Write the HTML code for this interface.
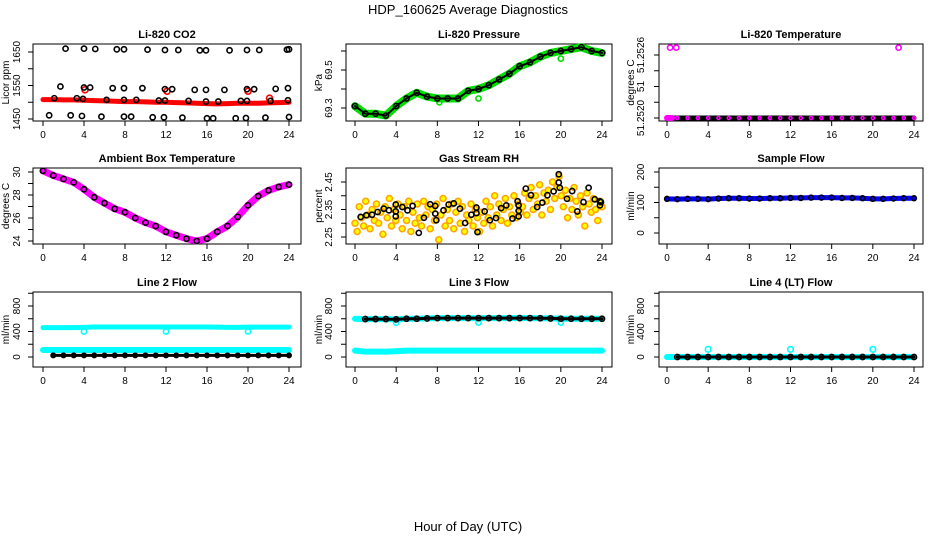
<!DOCTYPE html>
<html><head><meta charset="utf-8"><style>
body{margin:0;background:#fff;}
svg{display:block;font-family:"Liberation Sans",sans-serif;}
</style></head><body>
<svg id="c" width="936" height="540" viewBox="0 0 936 540">
<text x="468" y="14" text-anchor="middle" font-size="13">HDP_160625  Average Diagnostics</text>
<text x="468" y="531" text-anchor="middle" font-size="13">Hour of Day (UTC)</text>
</svg>
<script>
const hoursHourly=[0,1,2,3,4,5,6,7,8,9,10,11,12,13,14,15,16,17,18,19,20,21,22,23,24];
const xTicks=[0,4,8,12,16,20,24];
// CO2
const co2Red=[1508,1508,1507,1507,1506,1505,1504,1503,1502,1502,1501,1500,1500,1499,1498,1497,1496,1495,1496,1497,1497,1497,1498,1499,1500];
const co2BlackHours=[2.2,4.0,5.1,7.2,7.9,10.2,11.9,13.2,15.3,15.9,18.2,19.9,21.1,23.8,24.0,1.7,4.0,4.6,6.8,7.9,9.7,11.9,12.6,14.8,15.9,17.7,19.9,20.6,22.7,23.9,1.1,3.3,3.9,6.2,7.9,9.1,11.3,11.9,14.2,15.9,17.1,19.3,19.9,22.2,23.9,0.6,2.7,3.8,5.7,7.9,8.6,10.7,11.8,13.6,16.0,16.6,18.8,19.8,21.7,24.0];
const co2BlackVals=[1660,1660,1659,1658,1658,1657,1656,1656,1655,1655,1655,1656,1656,1657,1658,1547,1544,1544,1542,1542,1542,1539,1539,1537,1537,1537,1539,1539,1540,1542,1512,1512,1510,1507,1507,1507,1505,1505,1504,1502,1502,1504,1504,1504,1506,1461,1461,1459,1457,1457,1457,1455,1455,1454,1452,1452,1452,1453,1454,1456];
const co2RedOutHours=[4.1,12.1,20.0,22.1];
const co2RedOutVals=[1537,1533,1533,1512];
// Pressure
const pressGreen=[69.31,69.27,69.27,69.26,69.31,69.35,69.38,69.36,69.35,69.35,69.35,69.39,69.40,69.42,69.45,69.48,69.52,69.54,69.57,69.59,69.60,69.61,69.62,69.60,69.59];
const pressOutHours=[12,20,8.2];
const pressOutVals=[69.35,69.56,69.33];
// Li-820 temperature
const tempLi=[51.2520,51.2520,51.2520,51.2520,51.2520,51.2520,51.2520,51.2520,51.2520,51.2520,51.2520,51.2520,51.2520,51.2520,51.2520,51.2520,51.2520,51.2520,51.2520,51.2520,51.2520,51.2520,51.2520,51.2520,51.2520];
const tempLiOutHours=[0.3,0.9,22.5];
const tempLiOutVals=[51.25267,51.25267,51.25267];
// Ambient
const ambient=[30.1,29.7,29.4,29.1,28.5,27.8,27.3,26.8,26.5,26.0,25.6,25.3,24.8,24.5,24.2,24.0,24.2,24.8,25.3,26.1,27.1,27.9,28.4,28.7,28.9];
// RH
const rhOrange=[2.30,2.27,2.36,2.32,2.29,2.38,2.33,2.28,2.35,2.31,2.37,2.30,2.34,2.26,2.36,2.32,2.39,2.29,2.35,2.31,2.37,
2.33,2.28,2.36,2.31,2.38,2.27,2.34,2.30,2.37,2.32,2.29,2.38,2.33,2.36,2.28,2.35,2.31,2.37,2.24,
2.33,2.39,2.29,2.35,2.31,2.37,2.28,2.34,2.38,2.30,2.36,2.27,2.33,2.31,2.37,2.29,2.35,2.32,2.27,
2.34,2.30,2.38,2.32,2.36,2.29,2.40,2.33,2.37,2.31,2.35,2.39,2.30,2.36,2.33,2.40,2.32,2.37,2.34,
2.36,2.41,2.33,2.39,2.43,2.35,2.40,2.37,2.44,2.33,2.41,2.38,2.42,2.35,2.45,2.39,2.43,2.47,2.40,
2.36,2.42,2.32,2.39,2.35,2.43,2.38,2.33,2.40,2.36,2.29,2.41,2.37,2.34,2.39,2.35,2.31,2.38,2.36];
const rhBlackHours=[0.55,1.1,1.65,2.2,2.8,3.3,3.96,3.96,3.96,4.6,5.1,5.6,6.2,6.7,7.3,7.8,7.8,7.9,8.6,9.1,9.6,10.2,10.7,11.3,11.8,11.8,11.9,12.6,13.1,13.7,14.2,14.7,15.3,15.8,15.9,15.9,15.9,16.6,17.1,17.7,18.2,18.7,19.3,19.8,19.8,19.9,20.6,21.1,21.6,22.2,22.7,23.3,23.8,23.8,23.9];
const rhBlackVals=[2.323,2.329,2.331,2.341,2.353,2.347,2.368,2.325,2.343,2.359,2.347,2.363,2.265,2.320,2.369,2.363,2.335,2.311,2.347,2.368,2.372,2.353,2.301,2.331,2.357,2.337,2.268,2.343,2.311,2.319,2.355,2.365,2.317,2.380,2.365,2.345,2.325,2.426,2.402,2.359,2.375,2.402,2.416,2.478,2.448,2.429,2.389,2.417,2.343,2.377,2.429,2.387,2.380,2.365,2.377];
// Sample flow
const sampleBlue=[112,111,112,112,111,113,114,114,113,113,114,114,115,115,116,116,116,115,115,114,112,112,113,114,114];
// Line flows
const line2Upper=[460,460,460,460,465,470,470,470,470,470,470,470,470,470,470,470,470,468,465,465,468,468,468,468,468];
const line2Lower=[110,110,110,110,110,110,110,110,110,110,110,110,110,110,110,110,110,110,110,110,110,110,110,110,110];
const line2Black=[25,25,25,25,25,25,25,25,25,25,25,25,25,25,25,25,25,25,25,25,25,25,25,25,25];
const line3Upper=[600,595,595,595,590,600,600,605,610,610,610,610,610,610,610,610,610,610,608,605,600,600,600,600,600];
const line3Lower=[100,85,85,85,90,100,100,100,100,100,100,100,100,100,100,100,100,100,100,100,100,100,100,100,100];
const line4Flow=[0,0,0,0,0,0,0,0,0,0,0,0,0,0,0,0,0,0,0,0,0,0,0,0,0];
const dipHours=[4,12,20];
const line2Dips=[400,400,400];
const line3Dips=[540,540,540];
const line4Out=[120,120,120];

const svg=document.getElementById('c');
const NS='http://www.w3.org/2000/svg';
function mk(tag,attrs,parent){const e=document.createElementNS(NS,tag);for(const k in attrs)e.setAttribute(k,attrs[k]);(parent||svg).appendChild(e);return e;}
const cols=[{l:33,r:301,x0:43,x24:289,ylx:9,ytx:20},{l:346,r:612,x0:355,x24:602,ylx:322,ytx:332},{l:659,r:923,x0:667,x24:914,ylx:634,ytx:644}];
const rows=[{t:44,b:121},{t:168,b:244},{t:292,b:367}];
function panel(ci,ri,o){
  const c=cols[ci],r=rows[ri];
  const g=mk('g',{});
  
  
  const X=h=>c.x0+(c.x24-c.x0)*h/24;
  const Y=v=>o.py0+(o.py1-o.py0)*(v-o.v0)/(o.v1-o.v0);
  const t=mk('text',{x:(c.l+c.r)/2,y:r.t-6,'text-anchor':'middle','font-size':11,'font-weight':'bold'},g);t.textContent=o.title;
  
  
  const bx=mk('rect',{x:c.l,y:r.t,width:c.r-c.l,height:r.b-r.t,fill:'none',stroke:'#000','stroke-width':1},g);
  
  
  // x axis
  mk('line',{x1:X(0),x2:X(24),y1:r.b,y2:r.b,stroke:'#000'},g);
  xTicks.forEach(h=>{mk('line',{x1:X(h),x2:X(h),y1:r.b,y2:r.b+5,stroke:'#000'},g);
    const tl=mk('text',{x:X(h),y:r.b+17,'text-anchor':'middle','font-size':10},g);tl.textContent=h;
    
    });
  // y axis
  const ys=o.ticks.map(Y);
  mk('line',{x1:c.l,x2:c.l,y1:Math.min(...ys),y2:Math.max(...ys),stroke:'#000'},g);
  o.ticks.forEach((v,i)=>{const y=Y(v);mk('line',{x1:c.l-5,x2:c.l,y1:y,y2:y,stroke:'#000'},g);
    if(o.labels[i]){const tl=mk('text',{x:c.ytx,y:y,'text-anchor':'middle','font-size':10,transform:`rotate(-90 ${c.ytx} ${y})`},g);tl.textContent=o.labels[i];
    
    }});
  const yl=mk('text',{x:c.ylx,y:(r.t+r.b)/2,'text-anchor':'middle','font-size':10,transform:`rotate(-90 ${c.ylx} ${(r.t+r.b)/2})`},g);yl.textContent=o.ylab;
  
  
  return {g,X,Y};
}
function band(p,hs,vs,color,w,name){const pl=mk('polyline',{points:hs.map((h,i)=>p.X(h)+','+p.Y(vs[i])).join(' '),fill:'none',stroke:color,'stroke-width':w,'stroke-linejoin':'round','stroke-linecap':'round'},p.g);
  
  }
function pts(p,hs,vs,color,rad,name,fill){hs.forEach((h,i)=>{const ci=mk('circle',{cx:p.X(h),cy:p.Y(vs[i]),r:rad||2.6,fill:fill||'none',stroke:color,'stroke-width':1.6},p.g);
  
  });}

let p;
p=panel(0,0,{name:'co2-panel',title:'Li-820 CO2',ylab:'Licor ppm',v0:1450,py0:119,v1:1650,py1:52,ticks:[1450,1500,1550,1600,1650],labels:['1450','','1550','','1650']});
band(p,hoursHourly,co2Red,'#f00',5,'co2-red-series');
pts(p,co2RedOutHours,co2RedOutVals,'#f00',3,'co2-red-point');
pts(p,co2BlackHours,co2BlackVals,'#000',2.6,'co2-black-point');

p=panel(1,0,{name:'pressure-panel',title:'Li-820 Pressure',ylab:'kPa',v0:69.3,py0:108,v1:69.5,py1:70,ticks:[69.3,69.4,69.5,69.6],labels:['69.3','','69.5','']});
band(p,hoursHourly,pressGreen,'#0d0',8,'pressure-green-series');
pts(p,pressOutHours,pressOutVals,'#0d0',2.6,'pressure-green-point');
band(p,hoursHourly,pressGreen,'#000',2,'pressure-black-series');
pts(p,hoursHourly,pressGreen,'#000',2.6,'pressure-black-point');

p=panel(2,0,{name:'li820-temp-panel',title:'Li-820 Temperature',ylab:'degrees C',v0:51.2520,py0:118,v1:51.2526,py1:55,ticks:[51.2520,51.25215,51.2523,51.25245,51.2526],labels:['51.2520','','51','','51.2526']});
band(p,hoursHourly,tempLi,'#000',5,'li820-temp-black-series');
band(p,[0,0.5],[51.2520,51.2520],'#f0f',6,'li820-temp-magenta-series');
pts(p,tempLiOutHours,tempLiOutVals,'#f0f',2.6,'li820-temp-magenta-point');
pts(p,hoursHourly,tempLi,'#f0f',1.5,'li820-temp-point');

p=panel(0,1,{name:'ambient-panel',title:'Ambient Box Temperature',ylab:'degrees C',v0:24,py0:241,v1:30,py1:172,ticks:[24,25,26,27,28,29,30],labels:['24','','26','','28','','30']});
band(p,hoursHourly,ambient,'#f0f',7,'ambient-magenta-series');
pts(p,hoursHourly,ambient,'#000',2.6,'ambient-black-point');

p=panel(1,1,{name:'rh-panel',title:'Gas Stream RH',ylab:'percent',v0:2.25,py0:237,v1:2.45,py1:182,ticks:[2.25,2.30,2.35,2.40,2.45],labels:['2.25','','2.35','','2.45']});
pts(p,rhOrange.map((v,i)=>i*24/(rhOrange.length-1)),rhOrange,'#ffa500',3,'rh-orange-point','#ff0');
pts(p,rhBlackHours,rhBlackVals,'#000',2.6,'rh-black-point');

p=panel(2,1,{name:'sample-flow-panel',title:'Sample Flow',ylab:'ml/min',v0:0,py0:233,v1:200,py1:172,ticks:[0,50,100,150,200],labels:['0','','100','','200']});
band(p,hoursHourly,sampleBlue,'#00f',5,'sample-flow-blue-series');
pts(p,hoursHourly,sampleBlue,'#000',2.4,'sample-flow-black-point');

const fl={v0:0,py0:357,v1:800,py1:306,ticks:[0,200,400,600,800,1000],labels:['0','','400','','800',''],ylab:'ml/min'};
p=panel(0,2,Object.assign({name:'line2-flow-panel',title:'Line 2 Flow'},fl));
band(p,hoursHourly,line2Upper,'#0ff',5,'line2-upper-series');
band(p,hoursHourly,line2Lower,'#0ff',6,'line2-lower-series');
pts(p,dipHours,line2Dips,'#0ff',2.6,'line2-dip-point');
band(p,hoursHourly.slice(1),line2Black.slice(1),'#000',3,'line2-black-series');
pts(p,hoursHourly.slice(1),line2Black.slice(1),'#000',2.2,'line2-black-point');

p=panel(1,2,Object.assign({name:'line3-flow-panel',title:'Line 3 Flow'},fl));
band(p,hoursHourly,line3Lower,'#0ff',6,'line3-lower-series');
band(p,hoursHourly,line3Upper,'#0ff',6,'line3-cyan-series');
pts(p,dipHours,line3Dips,'#0ff',2.6,'line3-dip-point');
band(p,hoursHourly.slice(1),line3Upper.slice(1),'#000',3,'line3-black-series');
pts(p,hoursHourly.slice(1),line3Upper.slice(1),'#000',2.6,'line3-black-point');

p=panel(2,2,Object.assign({name:'line4-flow-panel',title:'Line 4 (LT) Flow'},fl));
band(p,hoursHourly,line4Flow,'#0ff',6,'line4-cyan-series');
band(p,hoursHourly.slice(1),line4Flow.slice(1),'#000',3,'line4-black-series');
pts(p,hoursHourly.slice(1),line4Flow.slice(1),'#000',2.6,'line4-black-point');
pts(p,dipHours,line4Out,'#0ff',2.8,'line4-outlier-point');
</script>
</body></html>
